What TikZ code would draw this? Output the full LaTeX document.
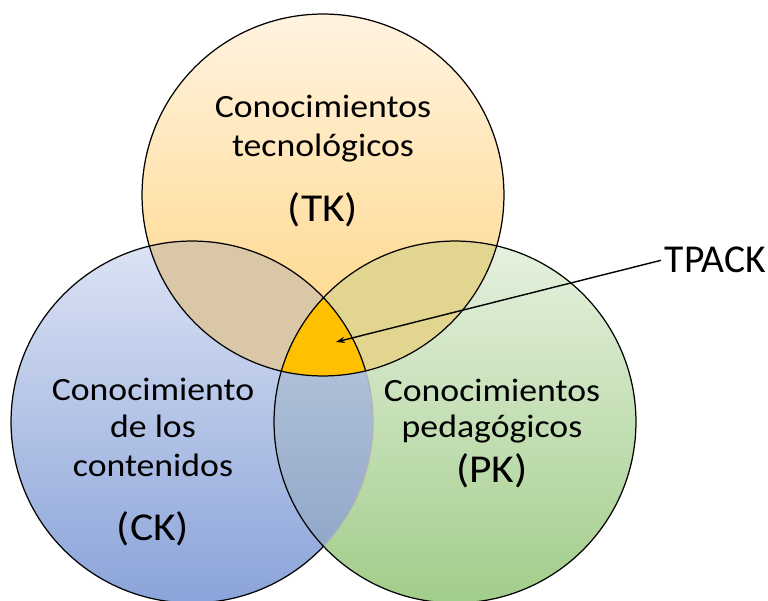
\documentclass[tikz,border=0pt]{standalone}
\usepackage{fontspec}
\setmainfont{Carlito}
\newfontfamily\lblfont{Carlito}[FakeStretch=1.1]
\usetikzlibrary{arrows.meta}

\definecolor{tkTop}{HTML}{FFF3E0}
\definecolor{tkBot}{HTML}{FFD47F}
\definecolor{ckTop}{HTML}{DCE3F4}
\definecolor{ckBot}{HTML}{8AA3D9}
\definecolor{pkTop}{HTML}{E6F1E0}
\definecolor{pkBot}{HTML}{A2CD8A}
\definecolor{tcCol}{HTML}{DAC7A8}
\definecolor{tpCol}{HTML}{E1D590}
\definecolor{cpTop}{HTML}{C4D2E0}
\definecolor{cpBot}{HTML}{88A0C6}
\definecolor{tpackCol}{HTML}{FFC000}

\newcommand\circR{3.62cm}

\tikzset{
	ring/.style={draw=black, line width=0.7pt},
	txt/.style={anchor=base, inner sep=0pt, font=\lblfont\fontsize{18.5}{22}\selectfont},
	abbr/.style={anchor=base, inner sep=0pt, font=\lblfont\fontsize{22.5}{26}\selectfont}
}

\begin{document}
\begin{tikzpicture}[x=0.02cm, y=-0.02cm]
			\useasboundingbox (0,0) rectangle (768,601);
			\coordinate (tkc) at (323,195);
			\coordinate (ckc) at (192,422);
			\coordinate (pkc) at (455,422);
			%Left circle (CK):
			\shade[top color=ckTop, bottom color=ckBot] (ckc) circle[radius=\circR];
			\draw[ring] (ckc) circle[radius=\circR];
			%Right circle (PK):
			\shade[top color=pkTop, bottom color=pkBot] (pkc) circle[radius=\circR];
			\begin{scope}
				\clip (ckc) circle[radius=\circR];
				\shade[top color=cpTop, bottom color=cpBot] (pkc) circle[radius=\circR];
			\end{scope}
			\begin{scope}
				\clip (pkc) circle[radius=\circR];
				\draw[ring, draw=black!30] (ckc) circle[radius=\circR];
			\end{scope}
			\draw[ring] (pkc) circle[radius=\circR];
			%Top circle (TK):
			\shade[top color=tkTop, bottom color=tkBot] (tkc) circle[radius=\circR];
			\begin{scope}
				\clip (ckc) circle[radius=\circR];
				\fill[tcCol] (tkc) circle[radius=\circR];
			\end{scope}
			\begin{scope}
				\clip (pkc) circle[radius=\circR];
				\fill[tpCol] (tkc) circle[radius=\circR];
			\end{scope}
			%TPACK core:
			\begin{scope}
				\clip (ckc) circle[radius=\circR];
				\clip (pkc) circle[radius=\circR];
				\fill[tpackCol] (tkc) circle[radius=\circR];
			\end{scope}
			\begin{scope}
				\clip (tkc) circle[radius=\circR];
				\draw[ring] (ckc) circle[radius=\circR];
				\draw[ring] (pkc) circle[radius=\circR];
			\end{scope}
			\draw[ring] (tkc) circle[radius=\circR];
			%Labels:
			\path
				(323,118) node[txt] (tk1) {Conocimientos}
				(323,157) node[txt] (tk2) {tecnológicos}
				(323,222) node[abbr] (tk3) {(TK)};
			\path
				(153,400) node[txt] (ck1) {Conocimiento}
				(153,438) node[txt] (ck2) {de los}
				(153,477) node[txt] (ck3) {contenidos}
				(153,540) node[abbr] (ck4) {(CK)};
			\path
				(492,401) node[txt] (pk1) {Conocimientos}
				(492,438) node[txt] (pk2) {pedagógicos}
				(492,482) node[abbr] (pk3) {(PK)};
			%Pointer:
			\node[anchor=base west, inner sep=2pt, font=\fontsize{22.5}{26}\selectfont] (tpack) at (661,273) {TPACK};
			\coordinate (core) at (336,342);
			\draw[-{Stealth[length=5pt, width=3.5pt]}, line width=0.8pt]
				(tpack.west) -- (core);
			\end{tikzpicture}
\end{document}
